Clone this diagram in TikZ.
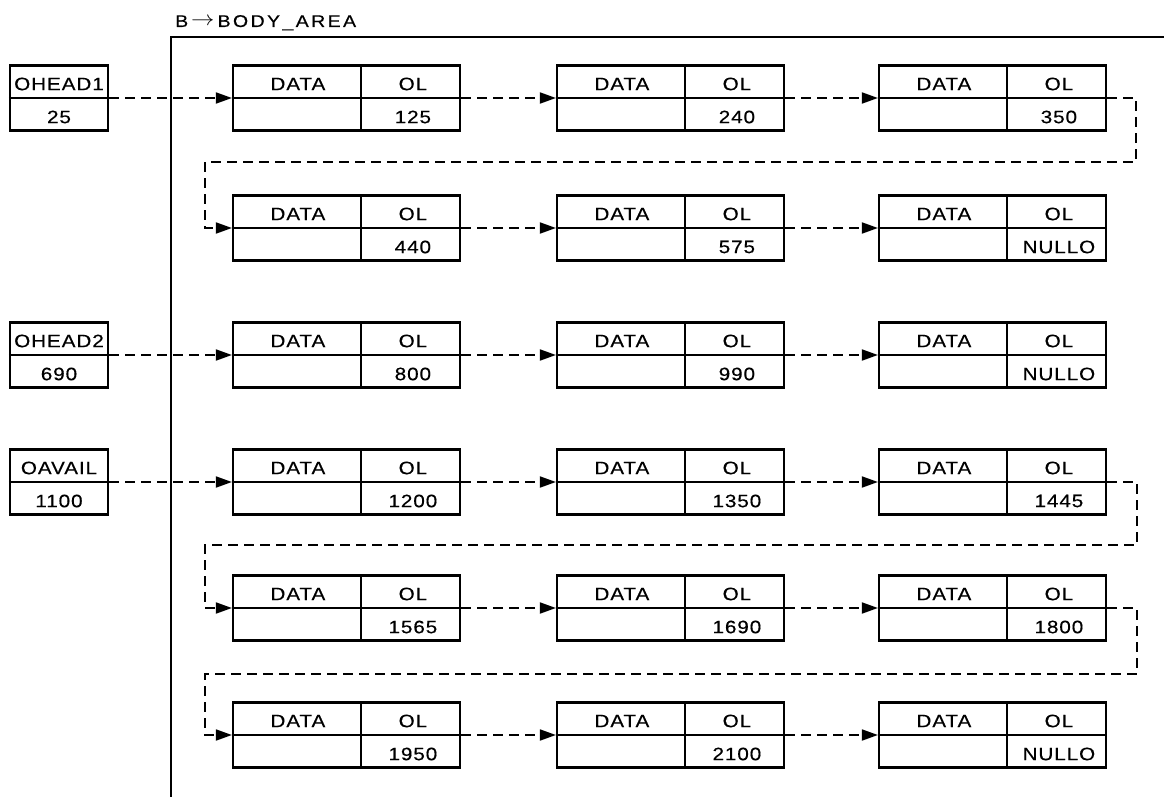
\documentclass[tikz,border=0pt]{standalone}
\usepackage{fontspec}
\setmainfont{Liberation Sans}
\newfontfamily\labfont[LetterSpace=5,FakeStretch=1.15,FakeBold=0.4]{Liberation Sans}
\newfontfamily\titlefont[LetterSpace=14,FakeStretch=1.15,FakeBold=0.4]{Liberation Sans}
\usetikzlibrary{arrows.meta,calc}

% one linked-list record: name, left edge, middle height, link value
\newcommand\listrec[4]{%
  \node[recbox] (#1) at (#2+113.5,#3) {};
  \draw[cell] (#1.west) -- (#1.east);
  \draw[cell] ($(#1.north west)+(129,0)$) -- ($(#1.south west)+(129,0)$);
  \node[lab] (#1-data) at ($(#1.west)+(66,-14)$) {DATA};
  \node[lab] (#1-ol)   at ($(#1.west)+(181,-14)$) {OL};
  \node[lab] (#1-val)  at ($(#1.west)+(181,19)$) {#4};
}
% one list head: name, middle height, label, value
\newcommand\listhead[4]{%
  \node[headbox] (#1) at (59,#2) {};
  \draw[cell] (#1.west) -- (#1.east);
  \node[lab] (#1-name) at ($(#1.center)+(0,-14)$) {#3};
  \node[lab] (#1-val)  at ($(#1.center)+(0,19)$) {#4};
}

\begin{document}
\begin{tikzpicture}[x=1pt,y=-1pt,
  recbox/.style={draw,line width=2.2pt,minimum width=227pt,minimum height=65pt,inner sep=0pt},
  headbox/.style={draw,line width=2.2pt,minimum width=98pt,minimum height=65pt,inner sep=0pt},
  cell/.style={line width=2.2pt},
  lab/.style={font=\labfont\fontsize{18}{21}\selectfont,inner sep=0pt},
  link/.style={line width=1.8pt,dash pattern=on 10pt off 6pt,
    -{Triangle[length=16pt,width=11pt]}},
  frame/.style={line width=1.8pt}]
\useasboundingbox (0,0) rectangle (1164,797);

% body area frame and its label
\coordinate (fa) at (171,797);
\coordinate (fb) at (171,37);
\coordinate (fc) at (1164,37);
\draw[frame] (fa) -- (fb) -- (fc);
\node[anchor=base west,inner sep=0pt,font=\titlefont\fontsize{17}{20}\selectfont] (title) at (175,27)
  {B\hspace{3pt}\raisebox{1.5pt}{\scalebox{1.35}[1.2]{$\rightarrow$}}\hspace{3pt}BODY\_AREA};

% list heads
\listhead{h1}{98}{OHEAD1}{25}
\listhead{h2}{355}{OHEAD2}{690}
\listhead{h3}{482}{OAVAIL}{1100}

% records
\listrec{r11}{233}{98}{125}
\listrec{r12}{557}{98}{240}
\listrec{r13}{879}{98}{350}
\listrec{r21}{233}{228}{440}
\listrec{r22}{557}{228}{575}
\listrec{r23}{879}{228}{NULLO}
\listrec{r31}{233}{355}{800}
\listrec{r32}{557}{355}{990}
\listrec{r33}{879}{355}{NULLO}
\listrec{r41}{233}{482}{1200}
\listrec{r42}{557}{482}{1350}
\listrec{r43}{879}{482}{1445}
\listrec{r51}{233}{608}{1565}
\listrec{r52}{557}{608}{1690}
\listrec{r53}{879}{608}{1800}
\listrec{r61}{233}{735}{1950}
\listrec{r62}{557}{735}{2100}
\listrec{r63}{879}{735}{NULLO}

% links from the heads
\draw[link] (h1.east) -- (r11.west);
\draw[link] (h2.east) -- (r31.west);
\draw[link] (h3.east) -- (r41.west);

% links along each row
\foreach \r in {1,...,6}{
  \draw[link] (r\r1.east) -- (r\r2.west);
  \draw[link] (r\r2.east) -- (r\r3.west);
}

% wrap-around links to the next row
\coordinate (w1a) at (1136,162);
\coordinate (w1b) at (205,162);
\draw[link] (r13.east) -| (w1a) -- (w1b) |- (r21.west);
\coordinate (w2a) at (1137,545);
\coordinate (w2b) at (205,545);
\draw[link] (r43.east) -| (w2a) -- (w2b) |- (r51.west);
\coordinate (w3a) at (1137,674);
\coordinate (w3b) at (205,674);
\draw[link] (r53.east) -| (w3a) -- (w3b) |- (r61.west);
\end{tikzpicture}
\end{document}
